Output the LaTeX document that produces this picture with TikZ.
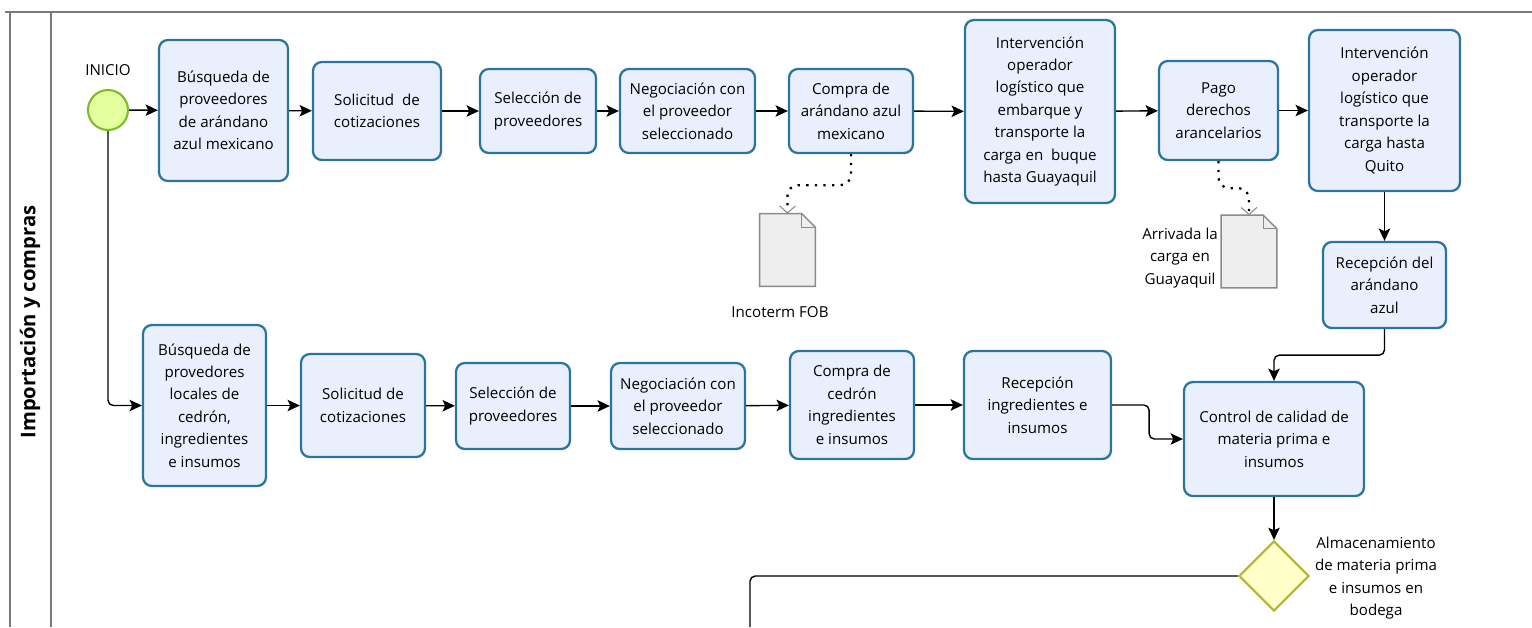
\documentclass[tikz,border=0pt]{standalone}
\usepackage{fontspec}
\setmainfont{Open Sans}
\usepackage{xcolor}
\usepackage{tikz}
\usetikzlibrary{shapes.geometric, arrows.meta, positioning}

\definecolor{boxfill}{HTML}{E9EFFC}
\definecolor{boxline}{HTML}{2A74A0}
\definecolor{startfill}{HTML}{E4FF9E}
\definecolor{startline}{HTML}{7DBB2B}
\definecolor{gatefill}{HTML}{FFFFC8}
\definecolor{gateline}{HTML}{B3B338}
\definecolor{docfill}{HTML}{EEEEEE}
\definecolor{docline}{HTML}{8A8A8A}
\definecolor{lane}{HTML}{7A7A7A}

\begin{document}
\begin{tikzpicture}[
  x=0.02cm, y=-0.02cm,
  every node/.style = {font=\fontsize{8.6}{12.8}\selectfont},
  proc/.style  = {rectangle, rounded corners=5pt, draw=boxline, fill=boxfill,
                  line width=1.3pt, align=center, inner sep=2pt},
  sz/.style 2 args = {minimum width=#1cm, minimum height=#2cm},
  start/.style = {circle, draw=startline, fill=startfill, line width=1.2pt,
                  minimum size=0.8cm, inner sep=0pt},
  gate/.style  = {diamond, draw=gateline, fill=gatefill, line width=1.2pt,
                  minimum width=1.4cm, minimum height=1.4cm, inner sep=0pt},
  docu/.style  = {rectangle, minimum width=1.1cm, minimum height=1.44cm, inner sep=0pt},
  arr/.style   = {-{Stealth[length=7pt, width=6.5pt, inset=1.5pt]}, line width=0.8pt,
                  rounded corners=3pt},
  flow/.style  = {line width=0.8pt, rounded corners=3pt},
  assoc/.style = {line width=1.3pt, dash pattern=on 1.3pt off 3.6pt, rounded corners=6pt,
                  -{Straight Barb[length=4pt, width=9pt, line width=0.6pt, color=docline]}}
]
\useasboundingbox (0,0) rectangle (1532,627);

%% ── LANE ─────────────────────────────────────────────────────────
\draw[lane, line width=1pt] (5,12) -- (1532,12);
\draw[lane, line width=1pt] (10,12) -- (10,627);
\draw[lane, line width=1pt] (51,12) -- (51,627);
\node[rotate=90, font=\bfseries\fontsize{11.5}{13}\selectfont] at (30,322) (lanename) {Importación y compras};

%% ── ROW 1 (import of arándano) ───────────────────────────────────
\node[start, label={[label distance=4pt]above:INICIO}] at (108,110) (inicio) {};
\node[proc, sz={2.58}{2.82}] at (223.5,110.5) (busq1)  {Búsqueda de\\proveedores\\de arándano\\azul mexicano};
\node[proc, sz={2.56}{1.96}] at (377,111)     (solic1) {Solicitud~ de\\cotizaciones};
\node[proc, sz={2.32}{1.68}] at (538,111)     (selec1) {Selección de\\proveedores};
\node[proc, sz={2.70}{1.68}] at (687.5,111)   (negoc1) {Negociación con\\el proveedor\\seleccionado};
\node[proc, sz={2.48}{1.68}] at (851,111)     (compra1){Compra de\\arándano azul\\mexicano};
\node[proc, sz={3.00}{3.66}] at (1040,111.5)  (oper1)  {Intervención\\operador\\logístico que\\embarque y\\transporte la\\carga en~ buque\\hasta Guayaquil};
\node[proc, sz={2.38}{1.98}] at (1218.5,110.5)(pago)   {Pago\\derechos\\arancelarios};
\node[proc, sz={3.02}{3.22}] at (1384.5,110.5)(oper2)  {Intervención\\operador\\logístico que\\transporte la\\carga hasta\\Quito};
\node[proc, sz={2.46}{1.72}] at (1384.5,285)  (recep1) {Recepción del\\arándano\\azul};

%% ── DOCUMENTS ────────────────────────────────────────────────────
\node[docu] at (787.5,250) (doc1) {};
\node[docu] at (1249,251.5) (doc2) {};
\foreach \d in {doc1, doc2} {
  \draw[docline, fill=docfill, line width=0.8pt]
    (\d.south west) -- (\d.north west) -- ([xshift=-0.27cm]\d.north east)
    -- ([yshift=-0.27cm]\d.north east) -- (\d.south east) -- cycle;
  \draw[docline, line width=0.6pt]
    ([xshift=-0.27cm]\d.north east) |- ([yshift=-0.27cm]\d.north east);
}
\node at (780,312) (fob) {Incoterm FOB};
\node[align=center] at (1180,258) (arriv) {Arrivada la\\carga en\\Guayaquil};

%% ── ROW 2 (local purchases) ──────────────────────────────────────
\node[proc, sz={2.46}{3.22}] at (204.5,405.5) (busq2)  {Búsqueda de\\provedores\\locales de\\cedrón,\\ingredientes\\e insumos};
\node[proc, sz={2.48}{2.06}] at (363,405.5)   (solic2) {Solicitud de\\cotizaciones};
\node[proc, sz={2.28}{1.72}] at (513,406)     (selec2) {Selección de\\proveedores};
\node[proc, sz={2.68}{1.72}] at (678,406)     (negoc2) {Negociación con\\el proveedor\\seleccionado};
\node[proc, sz={2.48}{2.16}] at (852,405)     (compra2){Compra de\\cedrón\\ingredientes\\e insumos};
\node[proc, sz={2.94}{2.16}] at (1037.5,405)  (recep2) {Recepción\\ingredientes e\\insumos};
\node[proc, sz={3.60}{2.28}] at (1274,439)    (calidad){Control de calidad de\\materia prima e\\insumos};

%% ── STORAGE ──────────────────────────────────────────────────────
\node[gate] at (1274,576) (almac) {};
\node[align=center] at (1376,578) (almtxt) {Almacenamiento\\de materia prima\\e insumos en\\bodega};
\coordinate (salida) at (750,627);

%% ── ARROWS ───────────────────────────────────────────────────────
\draw[arr] (inicio)  -- (busq1);
\draw[arr] (busq1)   -- (solic1);
\draw[arr] (solic1)  -- (selec1);
\draw[arr] (selec1)  -- (negoc1);
\draw[arr] (negoc1)  -- (compra1);
\draw[arr] (compra1) -- (oper1);
\draw[arr] (oper1)   -- (pago);
\draw[arr] (pago)    -- (oper2);
\draw[arr] (oper2)   -- (recep1);
\draw[arr] (inicio.south) |- (busq2.west);
\draw[arr] (busq2)   -- (solic2);
\draw[arr] (solic2)  -- (selec2);
\draw[arr] (selec2)  -- (negoc2);
\draw[arr] (negoc2)  -- (compra2);
\draw[arr] (compra2) -- (recep2);
\draw[arr] (recep2.east) -- ++(37,0) |- (calidad.west);
\draw[arr] (recep1.south) -- ++(0,26) -| (calidad.north);
\draw[arr] (calidad) -- (almac);
\draw[flow] (almac.west) -| (salida);
\draw[assoc] (compra1.south) -- ++(0,31) -| (doc1.north);
\draw[assoc] (pago.south) -- ++(0,27) -| (doc2.north);

\end{tikzpicture}
\end{document}
